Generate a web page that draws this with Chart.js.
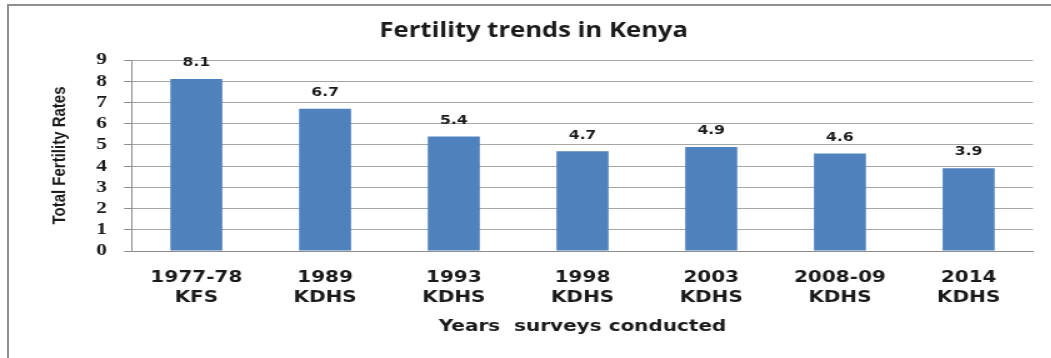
<!DOCTYPE html>
<html lang="en">
<head>
    <meta charset="UTF-8">
    <title>Fertility trends in Kenya</title>
    <script src="https://cdn.jsdelivr.net/npm/chart.js"></script>
    <style>
        body { margin: 0; background: #fff; }
        #wrap { position: relative; width: 1051px; height: 358px; overflow: hidden; }
        /* the chart is drawn on a narrower canvas and stretched sideways */
        #stretch { position: absolute; left: 0; top: 0; width: 841px; height: 358px;
                   transform: scaleX(1.25); transform-origin: 0 0; }
        #frame { position: absolute; left: 7px; top: 4px; width: 1100px; height: 400px;
                 border-left: 2px solid #8f8f8f; border-top: 2px solid #8f8f8f; pointer-events: none; }
    </style>
</head>
<body>
    <div id="wrap">
        <div id="stretch">
            <canvas id="tfr-chart" width="841" height="358"></canvas>
        </div>
        <div id="frame"></div>
    </div>
    <script>
        // Total fertility rate by survey
        const surveyYears = ['1977-78', '1989', '1993', '1998', '2003', '2008-09', '2014'];
        const surveyNames = ['KFS', 'KDHS', 'KDHS', 'KDHS', 'KDHS', 'KDHS', 'KDHS'];
        const fertilityRates = [8.1, 6.7, 5.4, 4.7, 4.9, 4.6, 3.9];
        const yTicks = [0, 1, 2, 3, 4, 5, 6, 7, 8, 9];

        const labels = surveyYears.map((y, i) => [y, surveyNames[i]]);

        // writes the value above each bar
        const valueLabels = {
            id: 'valueLabels',
            afterDatasetsDraw(chart) {
                const ctx = chart.ctx;
                const meta = chart.getDatasetMeta(0);
                ctx.save();
                ctx.font = 'bold 12.5px "DejaVu Sans"';
                ctx.fillStyle = '#1a1a1a';
                ctx.textAlign = 'center';
                ctx.textBaseline = 'middle';
                meta.data.forEach((bar, i) => {
                    ctx.fillText(fertilityRates[i].toFixed(1), bar.x, bar.y - 16);
                });
                ctx.restore();
            }
        };

        const config = {
            type: 'bar',
            data: {
                labels: labels,
                datasets: [{
                    data: fertilityRates,
                    backgroundColor: '#4f81bd',
                    borderWidth: 0,
                    categoryPercentage: 1,
                    barPercentage: 0.404
                }]
            },
            options: {
                responsive: false,
                animation: false,
                layout: { padding: { left: 27.6, top: 0, right: 14.6, bottom: 0 } },
                plugins: {
                    legend: { display: false },
                    tooltip: { enabled: false },
                    title: {
                        display: true,
                        text: 'Fertility trends in Kenya',
                        color: '#1a1a1a',
                        font: { family: 'Open Sans', weight: 'bold', size: 20.5, lineHeight: 1.2 },
                        padding: { top: 18.7, bottom: 16.7 }
                    }
                },
                scales: {
                    x: {
                        grid: { display: false },
                        border: { display: true, color: '#8c8c8c', width: 1 },
                        ticks: {
                            color: '#1a1a1a',
                            font: { family: 'DejaVu Sans', weight: 'bold', size: 16, lineHeight: 1.25 },
                            padding: 9,
                            maxRotation: 0,
                            autoSkip: false
                        },
                        title: {
                            display: true,
                            text: 'Years  surveys conducted',
                            color: '#1a1a1a',
                            font: { family: 'DejaVu Sans', weight: 'bold', size: 16, lineHeight: 1.2 },
                            padding: { top: 0, bottom: 21.4 }
                        },
                        afterFit(scale) { scale.height = 107; }
                    },
                    y: {
                        min: 0,
                        max: 9,
                        afterBuildTicks(scale) { scale.ticks = yTicks.map(v => ({ value: v })); },
                        grid: { color: '#a6a6a6', lineWidth: 1, tickLength: 6.4, tickColor: '#8c8c8c' },
                        border: { display: true, color: '#8c8c8c', width: 1 },
                        ticks: {
                            color: '#1a1a1a',
                            font: { family: 'Liberation Serif', weight: 'bold', size: 17 },
                            padding: 13.6,
                            autoSkip: false
                        },
                        title: {
                            display: true,
                            text: 'Total Fertility Rates',
                            color: '#1a1a1a',
                            font: { family: 'Liberation Sans', weight: 'bold', size: 15, lineHeight: 1.2 },
                            padding: { top: 11.4, bottom: 0 }
                        },
                        afterFit(scale) {
                            scale.width = 78;
                            scale.paddingTop = 0;
                            scale.paddingBottom = 0;
                        }
                    }
                }
            },
            plugins: [valueLabels]
        };

        new Chart(document.getElementById('tfr-chart'), config);
    </script>
</body>
</html>
